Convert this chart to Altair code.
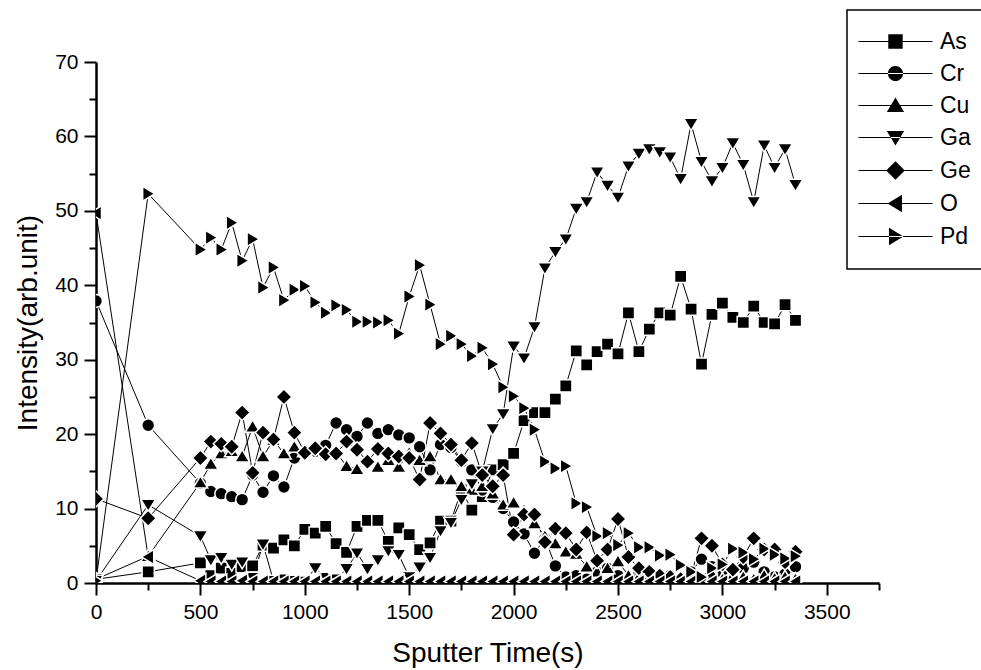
import altair as alt
import pandas as pd

times = [0, 250, 500, 550, 600, 650, 700, 750, 800, 850, 900, 950, 1000, 1050, 1100,
         1150, 1200, 1250, 1300, 1350, 1400, 1450, 1500, 1550, 1600, 1650, 1700, 1750,
         1800, 1850, 1900, 1950, 2000, 2050, 2100, 2150, 2200, 2250, 2300, 2350, 2400,
         2450, 2500, 2550, 2600, 2650, 2700, 2750, 2800, 2850, 2900, 2950, 3000, 3050,
         3100, 3150, 3200, 3250, 3300, 3350]

as_vals = [0.5, 1.5, 2.7, 1.0, 2.0, 1.3, 2.2, 2.3, 5.1, 4.7, 5.8, 5.0, 7.2, 6.7, 7.6,
           5.3, 4.1, 7.6, 8.4, 8.4, 5.6, 7.4, 6.5, 4.5, 5.4, 8.3, 8.3, 12.5,
           9.8, 11.6, 15.2, 15.9, 17.4, 21.8, 22.9, 22.9, 24.7, 26.5, 31.2, 29.3, 31.1,
           32.1, 30.8, 36.3, 31.1, 34.1, 36.3, 36.0, 41.2, 36.8, 29.4, 36.1, 37.6, 35.7,
           35.0, 37.2, 35.0, 34.8, 37.4, 35.3]

cr_vals = [37.9, 21.2, 13.4, 12.3, 12.0, 11.6, 11.2, 14.5, 12.2, 14.4, 12.9, 16.8, 17.5, 17.7, 18.5,
           21.5, 20.6, 19.7, 21.5, 20.1, 20.6, 19.9, 19.5, 18.3, 15.2, 18.6, 18.2, 16.3,
           15.2, 12.5, 11.5, 10.0, 8.2, 6.6, 4.0, 6.0, 2.3, 0.8, 1.0, 0.5, 1.5,
           2.0, 1.0, 0.5, 1.2, 0.8, 0.5, 1.0, 0.5, 1.5, 3.2, 2.2, 1.0, 0.5,
           2.0, 2.8, 1.5, 0.8, 1.2, 2.2]

cu_vals = [0.5, 3.6, 13.5, 16.0, 17.4, 17.7, 17.0, 21.0, 17.0, 19.2, 17.4, 18.3, 17.7, 18.0, 17.4,
           17.6, 15.7, 15.3, 16.5, 15.6, 16.5, 15.6, 17.5, 16.5, 17.0, 13.9, 13.9, 13.0,
           12.5, 13.0, 12.0, 10.5, 10.8, 9.8, 8.0, 6.3, 5.3, 4.2, 3.9, 2.2, 1.5,
           2.0, 2.9, 1.0, 0.8, 1.5, 0.8, 1.0, 0.5, 1.0, 0.5, 1.2, 0.5, 1.0,
           0.8, 0.5, 1.0, 0.6, 0.8, 0.5]

ga_vals = [0.3, 10.5, 6.3, 3.1, 3.4, 2.5, 2.8, 0.7, 5.2, 0.3, 0.5, 0.3, 0.2, 2.0, 0.7,
           0.5, 1.9, 4.0, 1.9, 3.1, 4.3, 3.8, 0.8, 2.1, 3.4, 7.0, 8.1, 11.2,
           13.3, 15.0, 20.7, 22.7, 31.8, 30.2, 34.4, 42.3, 44.5, 46.2, 50.3, 51.2, 55.2,
           53.4, 51.8, 56.0, 57.7, 58.3, 57.9, 57.2, 54.3, 61.7, 56.6, 54.0, 55.8, 59.1,
           56.2, 51.2, 58.8, 55.8, 58.3, 53.5]

ge_vals = [11.3, 8.7, 16.8, 19.0, 18.7, 18.3, 22.9, 14.8, 20.2, 19.3, 25.0, 20.2, 17.5, 18.1, 17.3,
           17.4, 19.0, 17.9, 16.3, 18.0, 17.4, 17.0, 16.8, 13.9, 21.5, 20.1, 18.6, 16.5,
           18.8, 14.5, 13.0, 14.5, 6.5, 9.2, 9.2, 5.5, 7.3, 6.7, 4.5, 6.8, 3.0,
           4.5, 8.6, 3.5, 2.0, 1.5, 1.0, 0.8, 0.5, 1.0, 6.0, 5.0, 2.5, 1.8,
           3.5, 6.0, 4.5, 4.5, 2.8, 4.2]

o_vals = [49.7, 3.5, 0.3, 0.2, 0.2, 0.2, 0.3, 0.2, 0.2, 0.2, 0.2, 0.2, 0.2, 0.2, 0.2,
          0.2, 0.2, 0.2, 0.2, 0.2, 0.2, 0.2, 0.2, 0.2, 0.2, 0.2, 0.2, 0.2,
          0.2, 0.2, 0.2, 0.2, 0.2, 0.2, 0.2, 0.2, 0.2, 0.2, 0.2, 0.2, 0.2,
          0.2, 0.2, 0.2, 0.2, 0.2, 0.2, 0.2, 0.2, 0.2, 0.2, 0.2, 0.2, 0.2,
          0.2, 0.2, 0.2, 0.2, 0.2, 0.2]

pd_vals = [0.3, 52.3, 44.8, 46.4, 44.8, 48.4, 43.3, 46.2, 39.7, 42.4, 38.0, 39.4, 39.9, 37.7, 36.3,
           37.3, 36.7, 35.1, 35.1, 35.0, 35.3, 33.5, 38.5, 42.7, 37.4, 32.1, 33.2, 32.1,
           30.5, 31.6, 29.4, 26.3, 25.1, 23.5, 20.6, 16.3, 15.4, 15.7, 10.7, 10.2, 6.3,
           6.7, 5.1, 6.7, 4.8, 4.8, 3.7, 3.8, 2.4, 1.5, 0.8, 2.0, 2.5, 4.6,
           4.1, 3.2, 4.6, 3.8, 3.3, 3.6]

series_names = ["As", "Cr", "Cu", "Ga", "Ge", "O", "Pd"]
series_values = [as_vals, cr_vals, cu_vals, ga_vals, ge_vals, o_vals, pd_vals]

x_major = [0, 500, 1000, 1500, 2000, 2500, 3000, 3500]
x_minor = [250, 750, 1250, 1750, 2250, 2750, 3250, 3750]
y_major = [0, 10, 20, 30, 40, 50, 60, 70]
y_minor = [5, 15, 25, 35, 45, 55, 65]

rows = []
for name, vals in zip(series_names, series_values):
    for t, v in zip(times, vals):
        rows.append({"time": t, "value": v, "series": name})
df = pd.DataFrame(rows)

# marker outlines in symbol units (1 unit = sqrt(size)/2 px)
polys = {
    "As": [(-1, -1), (1, -1), (1, 1), (-1, 1)],
    "Cu": [(0, -1.1), (1.2, 0.9), (-1.2, 0.9)],
    "Ga": [(0, 1.1), (1.2, -0.9), (-1.2, -0.9)],
    "Ge": [(0, -1.3), (1.3, 0), (0, 1.3), (-1.3, 0)],
    "O": [(-1.1, 0), (0.9, -1.2), (0.9, 1.2)],
    "Pd": [(1.1, 0), (-0.9, -1.2), (-0.9, 1.2)],
}


def marker_path(name, dx=0.0, k=1.0):
    if name == "Cr":
        r = 1.05 * k
        return (f"M{dx - r:.2f},0A{r:.2f},{r:.2f},0,1,0,{dx + r:.2f},0"
                f"A{r:.2f},{r:.2f},0,1,0,{dx - r:.2f},0Z")
    pts = polys[name]
    return "M" + "L".join(f"{x * k + dx:.2f},{y * k:.2f}" for x, y in pts) + "Z"


shape_range = [marker_path(n) for n in series_names]
legend_line = "M-3.33,-0.1H9V0.1H-3.33Z"
legend_range = [legend_line + marker_path(n, 2.83, 1.2) for n in series_names]

FONT = "Liberation Sans"
x_dom = [0, 3750]
y_dom = [0, 70]

base = alt.Chart(df)

lines = base.mark_line(color="black", strokeWidth=1).encode(
    x=alt.X("time:Q", scale=alt.Scale(domain=x_dom, nice=False, zero=False),
            axis=alt.Axis(values=x_major, title="Sputter Time(s)", orient="bottom",
                          tickSize=12, tickWidth=2, domainWidth=2.5, labelPadding=6,
                          titlePadding=17, labelFontSize=21, titleFontSize=28,
                          titleFontWeight="normal", labelFont=FONT, titleFont=FONT,
                          labelColor="black", titleColor="black", domainColor="black",
                          tickColor="black", grid=False, format="d", labelFlush=False)),
    y=alt.Y("value:Q", scale=alt.Scale(domain=y_dom, nice=False),
            axis=alt.Axis(values=y_major, title="Intensity(arb.unit)", orient="left",
                          tickSize=12, tickWidth=2, domainWidth=2.5, labelPadding=6,
                          titlePadding=12, labelFontSize=21, titleFontSize=28,
                          titleFontWeight="normal", labelFont=FONT, titleFont=FONT,
                          labelColor="black", titleColor="black", domainColor="black",
                          tickColor="black", grid=False, format="d", labelFlush=False)),
    detail="series:N",
    order="time:Q",
)

points = base.mark_point(filled=True, fill="black", stroke="white", strokeWidth=1.5,
                         opacity=1, size=150, clip=True).encode(
    x=alt.X("time:Q", scale=alt.Scale(domain=x_dom, nice=False, zero=False),
            axis=alt.Axis(values=x_minor, orient="bottom", title=None, labels=False,
                          domain=False, tickSize=7, tickWidth=2, tickColor="black",
                          grid=False)),
    y=alt.Y("value:Q", scale=alt.Scale(domain=y_dom, nice=False),
            axis=alt.Axis(values=y_minor, orient="left", title=None, labels=False,
                          domain=False, tickSize=7, tickWidth=2, tickColor="black",
                          grid=False)),
    shape=alt.Shape("series:N",
                    scale=alt.Scale(domain=series_names, range=shape_range),
                    legend=None),
)

legend_layer = base.mark_point(filled=True, fill="black", color="black",
                               opacity=0, size=144).encode(
    x=alt.X("time:Q", scale=alt.Scale(domain=x_dom, nice=False, zero=False), axis=None),
    y=alt.Y("value:Q", scale=alt.Scale(domain=y_dom, nice=False), axis=None),
    shape=alt.Shape("series:N",
                    scale=alt.Scale(domain=series_names, range=legend_range),
                    legend=alt.Legend(title=None, orient="none", legendX=751, legendY=-52,
                                      labelFont=FONT, labelFontSize=23, labelColor="black",
                                      labelOffset=50, symbolSize=144, rowPadding=8,
                                      padding=20, strokeColor="black", fillColor="white",
                                      symbolFillColor="black", symbolOpacity=1)),
)

chart = alt.layer(lines, points, legend_layer).resolve_axis(
    x="independent", y="independent"
).resolve_scale(shape="independent").properties(
    width=783, height=521,
    autosize=alt.AutoSizeParams(type="none"),
    padding={"left": 96, "top": 62, "right": 102, "bottom": 87},
).configure_view(stroke=None).configure_legend(strokeWidth=1.5, cornerRadius=0)

chart.save("out.html", embed_options={"renderer": "svg", "actions": False})
